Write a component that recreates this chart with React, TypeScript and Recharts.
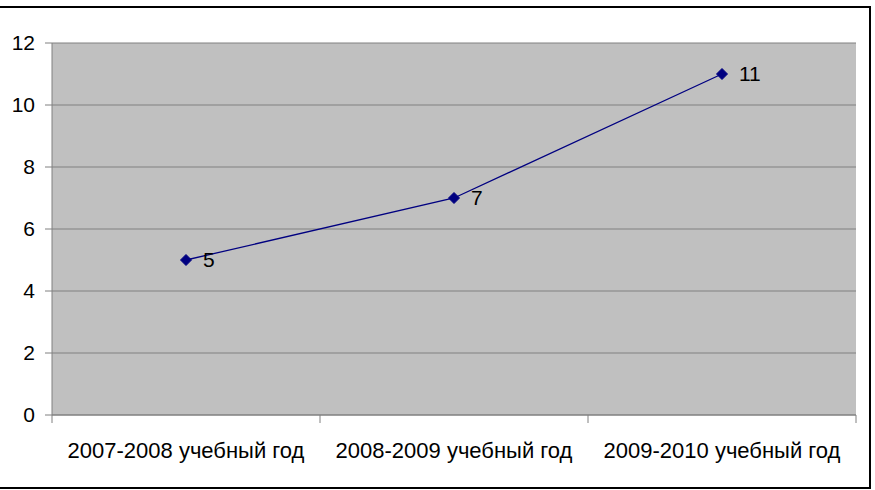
import React from 'react'
import { LineChart, Line, XAxis, YAxis, CartesianGrid, LabelList } from 'recharts'

const years = ['2007-2008 учебный год', '2008-2009 учебный год', '2009-2010 учебный год']
const counts = [5, 7, 11]
const yTicks = [0, 2, 4, 6, 8, 10, 12]

const data = years.map((year, i) => ({ year, count: counts[i] }))

const font = '"Liberation Sans", Arial, sans-serif'

const Diamond = (props: any) => {
  const { cx, cy } = props
  if (cx == null || cy == null) return null
  const r = 5.5
  return (
    <polygon
      points={`${cx},${cy - r} ${cx + r},${cy} ${cx},${cy + r} ${cx - r},${cy}`}
      fill="#000080"
      stroke="#000080"
    />
  )
}

const YearTick = (props: any) => {
  const { x, y, payload, index } = props
  const half = typeof payload?.offset === 'number' && payload.offset > 0 ? payload.offset : 134
  return (
    <g>
      <line x1={x - half} y1={y} x2={x - half} y2={y + 8} stroke="#808080" />
      {index === years.length - 1 && (
        <line x1={x + half} y1={y} x2={x + half} y2={y + 8} stroke="#808080" />
      )}
      <text x={x} y={y + 43} textAnchor="middle" fontSize={22} fontFamily={font} fill="#000">
        {payload.value}
      </text>
    </g>
  )
}

export default function App() {
  return (
    <div style={{ position: 'fixed', left: 0, top: 0, width: 875, height: 490, background: '#fff' }}>
      <div
        style={{
          position: 'absolute',
          left: 0,
          top: 6,
          width: 869,
          height: 479,
          borderTop: '2px solid #000',
          borderRight: '2px solid #000',
          borderBottom: '2px solid #000',
        }}
      />
      <LineChart
        width={875}
        height={490}
        data={data}
        margin={{ top: 43, right: 19, bottom: 0, left: 0 }}
        style={{ position: 'absolute', left: 0, top: 0 }}
      >
        <CartesianGrid fill="#C0C0C0" stroke="#808080" vertical={false} />
        <XAxis
          dataKey="year"
          scale="band"
          height={75}
          tickSize={0}
          tickMargin={0}
          tickLine={false}
          axisLine={{ stroke: '#808080' }}
          tick={<YearTick />}
          interval={0}
        />
        <YAxis
          width={52}
          domain={[0, 12]}
          ticks={yTicks}
          tickSize={7}
          tickMargin={10}
          tickLine={{ stroke: '#808080' }}
          axisLine={{ stroke: '#808080' }}
          tick={{ fontSize: 21, fontFamily: font, fill: '#000' }}
        />
        <YAxis
          yAxisId="r"
          orientation="right"
          width={0}
          domain={[0, 12]}
          ticks={yTicks}
          tick={false}
          tickLine={false}
          axisLine={{ stroke: '#808080' }}
        />
        <Line
          dataKey="count"
          stroke="#000080"
          strokeWidth={1.3}
          dot={<Diamond />}
          activeDot={false}
          isAnimationActive={false}
        >
          <LabelList
            dataKey="count"
            position="right"
            offset={17}
            fontSize={21}
            fontFamily={font}
            fill="#000"
          />
        </Line>
      </LineChart>
    </div>
  )
}
